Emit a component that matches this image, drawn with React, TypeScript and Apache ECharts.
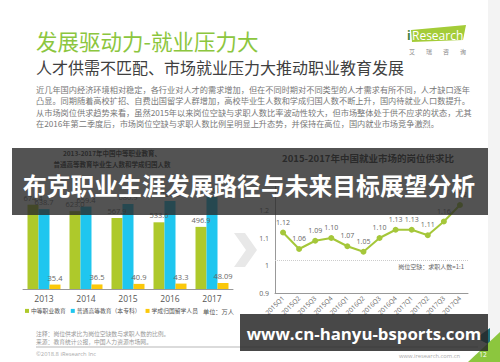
import React, { useEffect, useRef } from 'react';
import * as echarts from 'echarts';

const years = ['2013', '2014', '2015', '2016', '2017'];
const vocationalGrads = [674.4, 623.0, 567.9, 533.6, 496.9];
const higherEdGrads = [638.7, 659.4, 680.9, 704.2, 735.8];
const returnees = [35.4, 36.5, 40.9, 43.3, 48.09];
const barSeriesNames = ['中等职业教育', '普通高等教育（本专科）', '学成归国留学人员'];

const quarters = ['2015Q1', '2015Q2', '2015Q3', '2015Q4', '2016Q1', '2016Q2', '2016Q3', '2016Q4', '2017Q1', '2017Q2', '2017Q3', '2017Q4'];
const supplyDemandRatio = [1.12, 1.06, 1.09, 1.10, 1.07, 1.05, 1.10, 1.13, 1.13, 1.11, 1.16, 1.22];
const referenceLevel = 1.025;

const titleText = '发展驱动力-就业压力大';
const subtitleText = '人才供需不匹配、市场就业压力大推动职业教育发展';
const bodyLines = [
  '近几年国内经济环境相对稳定，各行业对人才的需求增加，但在不同时期对不同类型的人才需求有所不同，人才缺口逐年',
  '凸显。同期随着高校扩招、自费出国留学人群增加，高校毕业生人数和学成归国人数不断上升，国内待就业人口数提升。',
  '从市场岗位供求趋势来看，虽然2015年以来岗位空缺与求职人数比率波动性较大，但市场整体处于供不应求的状态，尤其',
  '在2016年第二季度后，市场岗位空缺与求职人数比例呈明显上升态势，并保持在高位，国内就业市场竞争激烈。',
];
const leftChartTitle = ['2013-2017年中国中等职业教育、', '普通高等教育毕业生人数和学成归国人数'];
const rightChartTitle = '2015-2017年中国就业市场的岗位供求比';
const overlayTitle = '布克职业生涯发展路径与未来目标展望分析';
const overlayUrl = 'www.cn-hanyu-bsports.com';
const noteLines = ['注释：岗位供求比为岗位空缺数与求职人数的比例。', '来源：教育统计公报，中国人力资源市场网。'];

const CJK = '"Noto Sans CJK SC", "Open Sans", sans-serif';
const GREEN = '#aec92b';
const BLUE = '#1fc6ef';
const YELLOW = '#fbc80a';

function txt(text: string, x: number, y: number, size: number, fill: string, opts: any = {}) {
  const align = opts.align || 'left';
  return {
    type: 'text',
    x,
    y,
    z: opts.z ?? 10,
    silent: true,
    style: {
      text,
      fill,
      fontSize: size,
      fontFamily: opts.family || CJK,
      fontWeight: opts.weight || 'normal',
      textAlign: align,
      align,
      textVerticalAlign: 'middle',
      verticalAlign: 'middle',
    },
  };
}

export default function App() {
  const ref = useRef<HTMLDivElement>(null);

  useEffect(() => {
    if (!ref.current) return;
    const chart = echarts.init(ref.current, null, { renderer: 'svg' });

    const graphics: any[] = [
      { type: 'rect', z: 0, silent: true, shape: { x: 488, y: 0, width: 12, height: 362 }, style: { fill: '#f3f3f3' } },
      txt(titleText, 36, 40, 21.5, '#8cc63e'),
      txt(subtitleText, 36, 67, 16, '#404040'),
      ...bodyLines.map((l, i) => txt(l, 36, 88.7 + i * 11.4, 8.2, '#777')),
      // logo
      { type: 'polygon', z: 10, silent: true, shape: { points: [[411, 30], [466, 25], [463, 40], [412, 42]] }, style: { fill: '#a4cc38' } },
      txt('i', 407, 35, 12, '#3f7f3a', { family: '"Open Sans", sans-serif', weight: 'bold', z: 11 }),
      txt('Research', 412, 35, 12, '#fff', { family: '"Open Sans", sans-serif', z: 11 }),
      txt('艾', 412, 51, 6, '#888', { align: 'center' }),
      txt('瑞', 429, 51, 6, '#888', { align: 'center' }),
      txt('咨', 446, 51, 6, '#888', { align: 'center' }),
      txt('询', 463, 51, 6, '#888', { align: 'center' }),
      // chart titles (under overlay)
      txt(leftChartTitle[0], 112, 153, 6.5, '#333', { align: 'center', weight: 'bold', z: 1 }),
      txt(leftChartTitle[1], 112, 164, 6.5, '#333', { align: 'center', weight: 'bold', z: 1 }),
      txt(rightChartTitle, 368, 158, 9.5, '#333', { align: 'center', weight: 'bold', z: 1 }),
      // chevron
      { type: 'polygon', z: 1, silent: true, shape: { points: [[234, 233], [245, 233], [257, 250], [245, 267], [234, 267], [246, 250]] }, style: { fill: '#e8e8e8' } },
      txt('单位：万人', 203, 311, 6.2, '#555'),
      ...noteLines.map((l, i) => txt(l, 36, 333 + i * 8, 5.8, '#999')),
      { type: 'line', z: 5, silent: true, shape: { x1: 36, y1: 347, x2: 478, y2: 347 }, style: { stroke: '#999', lineWidth: 0.7 } },
      txt('©2018.8 iResearch Inc', 36, 354, 5.8, '#aaa', { family: '"Open Sans", sans-serif' }),
      txt('www.iresearch.com.cn', 460, 356, 5.8, '#aaa', { align: 'right', family: '"Open Sans", sans-serif' }),
      { type: 'polygon', z: 5, silent: true, shape: { points: [[476, 338], [490, 328], [490, 345]] }, style: { fill: '#1f6f7a' } },
      { type: 'polygon', z: 5, silent: true, shape: { points: [[468, 362], [500, 332], [500, 362]] }, style: { fill: '#8cc63e' } },
      txt('12', 483, 354, 6.5, '#fff', { align: 'center', family: '"Open Sans", sans-serif', z: 6 }),
      // overlays
      { type: 'rect', z: 100, silent: true, shape: { x: 12, y: 148, width: 476, height: 67 }, style: { fill: 'rgba(40,40,40,0.8)' } },
      txt(overlayTitle, 249, 184, 23.8, '#fff', { align: 'center', weight: 'bold', z: 101 }),
      { type: 'rect', z: 100, silent: true, shape: { x: 240, y: 314, width: 248, height: 37 }, style: { fill: 'rgba(40,40,40,0.85)' } },
      txt(overlayUrl, 364, 333, 16.8, '#fff', { align: 'center', weight: 'bold', family: '"Open Sans", sans-serif', z: 101 }),
    ];

    const barLabel = (fmt: (v: number) => string) => ({
      show: true,
      position: 'top',
      distance: 3,
      fontSize: 7.5,
      color: '#666',
      fontFamily: '"Open Sans", sans-serif',
      formatter: (p: any) => fmt(p.value),
    });

    const option: any = {
      animation: false,
      backgroundColor: '#fff',
      textStyle: { fontFamily: CJK },
      graphic: { elements: graphics },
      legend: {
        left: 25,
        top: 308,
        padding: 0,
        itemWidth: 4,
        itemHeight: 4,
        itemGap: 5,
        icon: 'rect',
        data: barSeriesNames,
        textStyle: { fontSize: 5.8, color: '#555', padding: [0, 0, 0, -3] },
      },
      grid: [
        { left: 23, width: 210, top: 189, bottom: 73 },
        { left: 275, right: 32, top: 183, bottom: 69 },
      ],
      xAxis: [
        {
          gridIndex: 0,
          type: 'category',
          data: years,
          axisTick: { show: false },
          axisLine: { lineStyle: { color: '#999', width: 1 } },
          axisLabel: { color: '#555', fontSize: 8.5, margin: 5, fontFamily: '"Open Sans", sans-serif' },
        },
        {
          gridIndex: 1,
          type: 'category',
          data: quarters,
          boundaryGap: true,
          axisTick: { show: false },
          axisLine: { lineStyle: { color: '#999', width: 1 } },
          axisLabel: { color: '#666', fontSize: 6.5, rotate: 45, margin: 4, interval: 0, fontFamily: '"Open Sans", sans-serif' },
        },
      ],
      yAxis: [
        { gridIndex: 0, type: 'value', min: 0, max: 800, show: false, splitLine: { show: false } },
        {
          gridIndex: 1,
          type: 'value',
          min: 0.9,
          max: 1.3,
          interval: 0.1,
          splitLine: { show: false },
          axisTick: { show: false },
          axisLine: { show: true, lineStyle: { color: '#999', width: 1 } },
          axisLabel: {
            color: '#666',
            fontSize: 7,
            margin: 6,
            showMaxLabel: false,
            fontFamily: '"Open Sans", sans-serif',
            formatter: (v: number) => String(Math.round(v * 10) / 10),
          },
        },
      ],
      series: [
        {
          name: barSeriesNames[0], type: 'bar', xAxisIndex: 0, yAxisIndex: 0,
          data: vocationalGrads, barWidth: 11, barGap: '0%', itemStyle: { color: GREEN },
          label: barLabel((v) => v.toFixed(1)),
        },
        {
          name: barSeriesNames[1], type: 'bar', xAxisIndex: 0, yAxisIndex: 0,
          data: higherEdGrads, barWidth: 11, barGap: '0%', itemStyle: { color: BLUE },
          label: barLabel((v) => v.toFixed(1)),
        },
        {
          name: barSeriesNames[2], type: 'bar', xAxisIndex: 0, yAxisIndex: 0,
          data: returnees, barWidth: 11, barGap: '0%', itemStyle: { color: YELLOW },
          label: barLabel((v) => String(v)),
        },
        {
          name: '岗位供求比', type: 'line', xAxisIndex: 1, yAxisIndex: 1,
          data: supplyDemandRatio,
          symbol: 'circle', symbolSize: 6,
          lineStyle: { color: '#a5c73a', width: 2 },
          itemStyle: { color: '#a5c73a' },
          label: { show: true, position: 'top', distance: 4, fontSize: 7, color: '#666', fontFamily: '"Open Sans", sans-serif', formatter: (p: any) => p.value.toFixed(2) },
          markLine: {
            silent: true,
            symbol: 'none',
            lineStyle: { color: '#ccc', type: 'dotted', width: 1 },
            label: { show: true, position: 'insideEndBottom', formatter: '岗位空缺：求职人数=1:1', fontSize: 6, color: '#666', distance: [4, 3] },
            data: [{ yAxis: referenceLevel }],
          },
        },
      ],
    };

    chart.setOption(option);
    return () => chart.dispose();
  }, []);

  return <div ref={ref} style={{ position: 'absolute', left: 0, top: 0, width: 500, height: 362 }} />;
}
